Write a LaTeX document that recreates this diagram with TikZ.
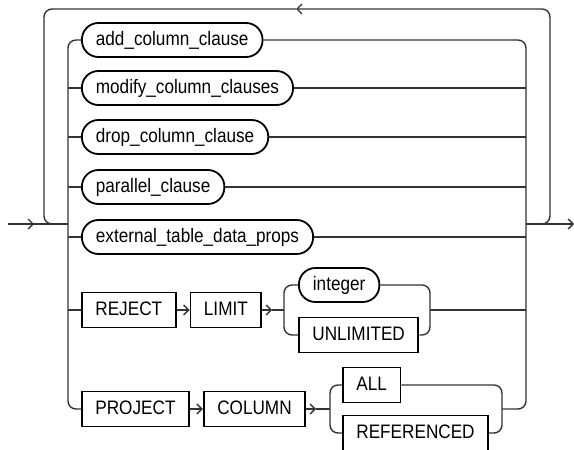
\documentclass[tikz,border=0pt]{standalone}
\usepackage{fontspec}
\setmainfont{Liberation Sans}[FakeStretch=0.88]
\usetikzlibrary{arrows.meta,positioning,calc}
\tikzset{
 rr line/.style={line width=1.4pt,draw=black!80,rounded corners=8pt},
 rr flow/.style={rr line,-{Straight Barb[length=5pt,width=10pt]}},
 rr pill/.style={draw,line width=1.8pt,rounded corners=16.5pt,minimum height=34pt,
   inner xsep=14pt,text height=14pt,text depth=4pt},
 rr box/.style={draw,line width=1.8pt,minimum height=35pt,
   inner xsep=13.5pt,text height=14pt,text depth=4pt}
}

\begin{document}
\begin{tikzpicture}[x=1pt,y=-1pt,font=\fontsize{19.5}{22}\selectfont]
\useasboundingbox (0,0) rectangle (574,450);
% branches
\node[rr pill,anchor=west] (addcol) at (81,40) {add\_column\_clause};
\node[rr pill,anchor=west] (modcol) at (81,88) {modify\_column\_clauses};
\node[rr pill,anchor=west] (dropcol) at (81,137) {drop\_column\_clause};
\node[rr pill,anchor=west] (parallel) at (81,187) {parallel\_clause};
\node[rr pill,anchor=west] (extdata) at (81,237) {external\_table\_data\_props};
\node[rr box,anchor=west] (reject) at (81,310) {REJECT};
\node[rr box,right=13pt of reject] (limit) {LIMIT};
\node[rr pill,anchor=west] (integer) at (298,285) {integer};
\node[rr box,anchor=west] (unlimited) at (298,335) {UNLIMITED};
\node[rr box,anchor=west] (project) at (81,409) {PROJECT};
\node[rr box,right=13pt of project] (column) {COLUMN};
\node[rr box,anchor=west] (all) at (342,385) {ALL};
\node[rr box,anchor=west] (referenced) at (342,433) {REFERENCED};
% junctions
\coordinate (entry) at (8,224);
\coordinate (exit) at (574,224);
\coordinate (lbar) at (68,224);
\coordinate (rbar) at (526,224);
\coordinate (loopl) at (44,9);
\coordinate (loopr) at (550,9);
\coordinate (looptip) at (296,9);
\coordinate (limitsplit) at (284,310);
\coordinate (limitjoin) at (430,310);
\coordinate (colsplit) at (330,409);
\coordinate (coljoin) at (502,409);
\coordinate (limittip) at ($(limit.east)+(10,0)$);
\coordinate (coltip) at ($(column.east)+(10,0)$);
% main line
\draw[rr line] (entry) -- (lbar);
\draw[rr flow] (entry) -- ++(26,0);
\draw[rr flow] (rbar) -- (exit);
\draw[rr line] (addcol.west) -- (lbar |- addcol.west) -- (lbar |- project.west) -- (project.west);
\draw[rr line] (addcol.east) -- (rbar |- addcol.east) -- (rbar |- coljoin) -- (coljoin);
\foreach \n in {modcol,dropcol,parallel,extdata,reject}
  \draw[rr line] (lbar |- \n.west) -- (\n.west);
\foreach \n in {modcol,dropcol,parallel,extdata}
  \draw[rr line] (\n.east) -- (rbar |- \n.east);
% repeat loop
\draw[rr flow] (rbar) -- (loopr |- rbar) -- (loopr) -- (looptip);
\draw[rr line] (looptip) -- (loopl) -- (loopl |- lbar) -- (lbar);
% reject limit
\draw[rr flow] (reject) -- (limit);
\draw[rr flow] (limit.east) -- (limittip);
\draw[rr line] (limittip) -- (limitsplit);
\draw[rr line] (integer.west) -- (limitsplit |- integer.west) -- (limitsplit |- unlimited.west) -- (unlimited.west);
\draw[rr line] (integer.east) -- (limitjoin |- integer.east) -- (limitjoin |- unlimited.east) -- (unlimited.east);
\draw[rr line] (limitjoin) -- (rbar |- limitjoin);
% project column
\draw[rr flow] (project) -- (column);
\draw[rr flow] (column.east) -- (coltip);
\draw[rr line] (coltip) -- (colsplit);
\draw[rr line] (all.west) -- (colsplit |- all.west) -- (colsplit |- referenced.west) -- (referenced.west);
\draw[rr line] (all.east) -- (coljoin |- all.east) -- (coljoin |- referenced.east) -- (referenced.east);
\end{tikzpicture}
\end{document}
